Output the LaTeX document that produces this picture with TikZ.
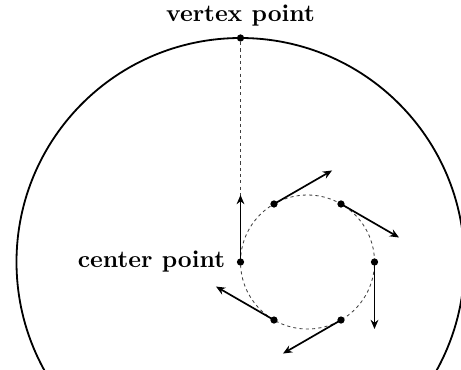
\documentclass[tikz,border=0pt]{standalone}
\usepackage{tikz}
\usetikzlibrary{arrows.meta,positioning,calc}
\tikzset{
  ponto/.style={circle, fill=black, inner sep=0pt, minimum size=3pt},
  seta/.style={-{Stealth[length=3.8pt,width=3.2pt]}, line width=0.7pt},
  tracejado/.style={dash pattern=on 1.3pt off 1.3pt, line width=0.35pt, black!75},
  rotulo/.style={font=\bfseries, inner sep=0pt},
}
\begin{document}
\begin{tikzpicture}[x=0.414pt, y=0.414pt]
  \useasboundingbox (-240.5,-107) rectangle (220.5,262);
  \clip (-240.5,-107) rectangle (220.5,262);

  % circunferência externa e seus pontos
  \draw[line width=0.75pt] (0,0) circle (224);
  \node[ponto] (c) at (0,0) {};
  \node[ponto] (v) at (0,224) {};
  \coordinate (o) at (67,0);
  \draw[tracejado] (v) -- (c);
  \node[rotulo, above=3pt of v] (rotv) {vertex point};
  \node[rotulo, left=4.5pt of c] (rotc) {center point};

  % circunferência interna com vetores tangentes
  \draw[tracejado] (o) circle (67);
  \foreach \n/\a in {p2/120, p3/60, p4/0, p5/-60, p6/-120}{
    \node[ponto] (\n) at ($(o)+(\a:67)$) {};
  }
  \foreach \n/\a in {c/180, p2/120, p3/60, p4/0, p5/-60, p6/-120}{
    \coordinate (t\n) at ($(\n)+(\a-90:67)$);
    \draw[seta] (\n.center) -- (t\n);
  }
\end{tikzpicture}
\end{document}
